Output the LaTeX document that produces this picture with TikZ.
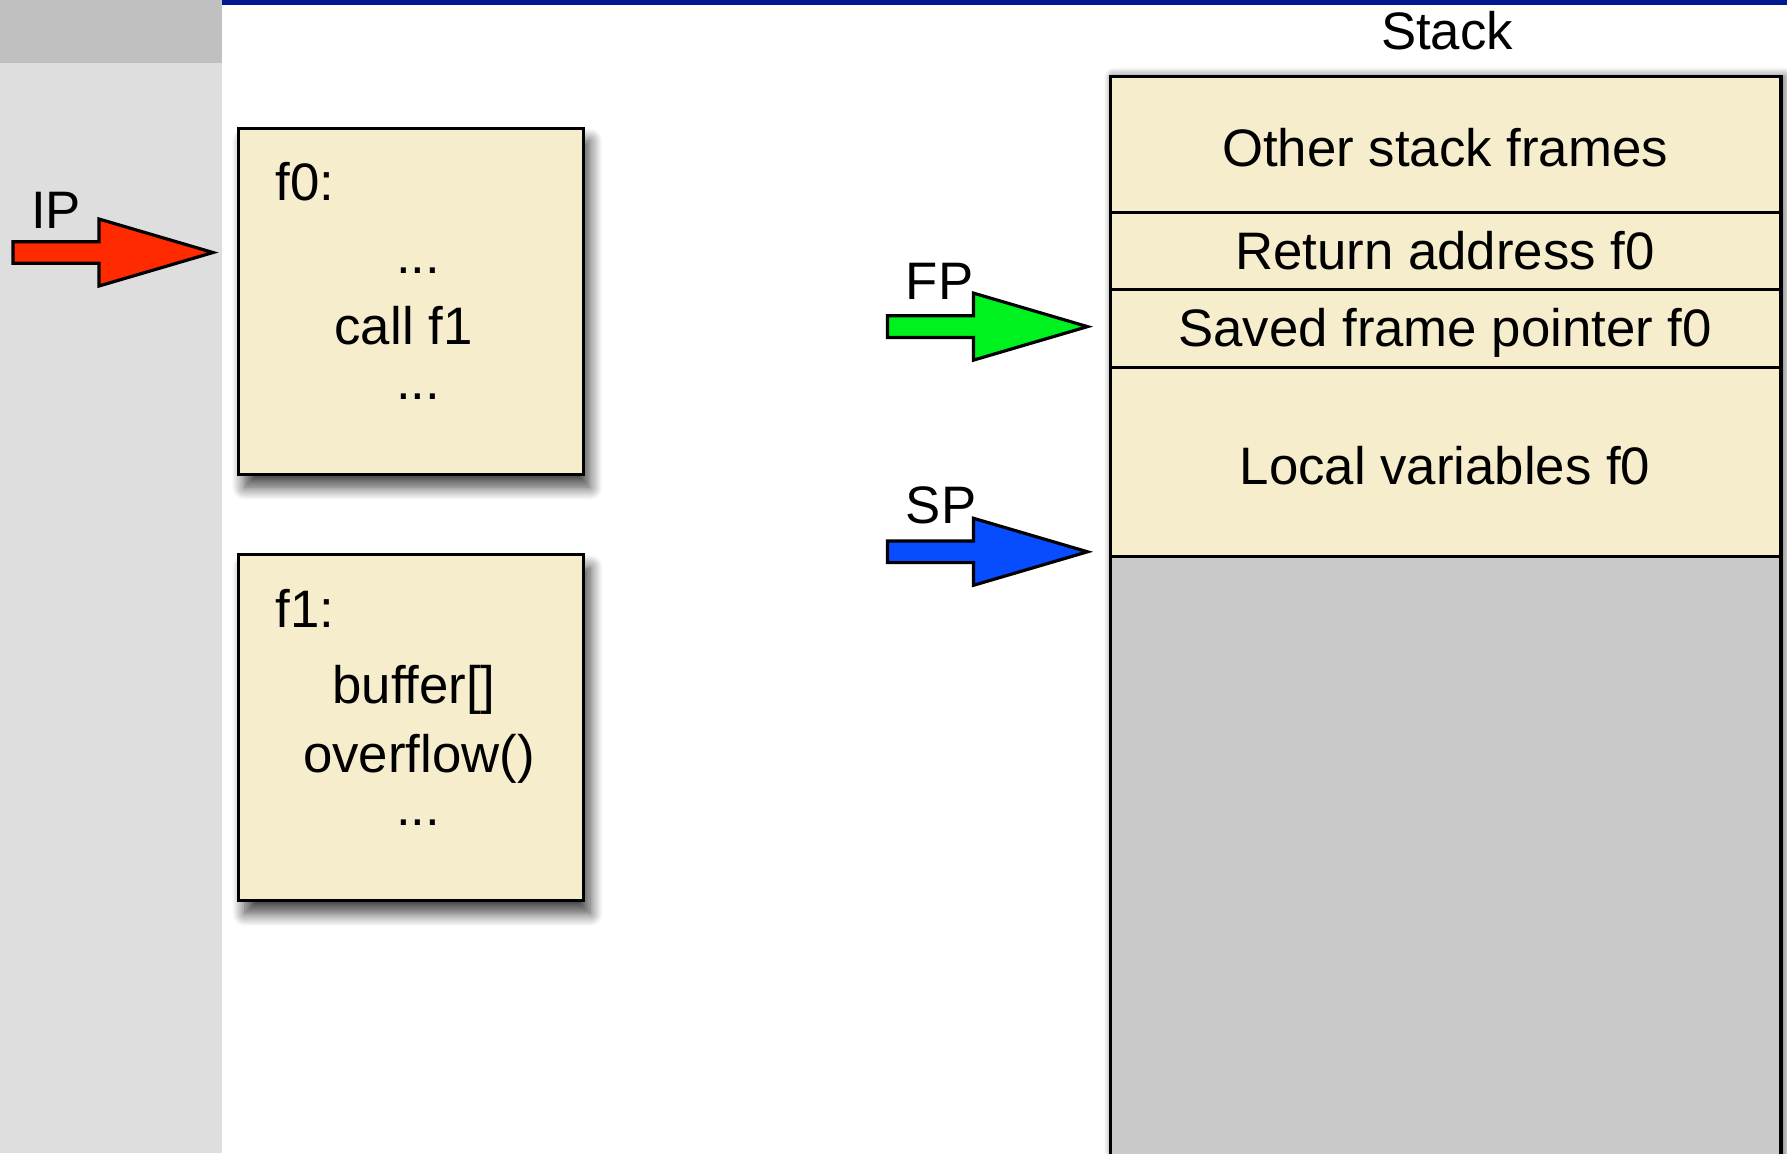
\documentclass[tikz,border=0pt]{standalone}
\usepackage{fontspec}
\setmainfont{Liberation Sans}
\usetikzlibrary{calc,shadows.blur}

\definecolor{panel}{RGB}{222,222,222}
\definecolor{panelTop}{RGB}{191,192,191}
\definecolor{topRule}{RGB}{2,24,143}
\definecolor{paper}{RGB}{245,237,203}
\definecolor{freeMem}{RGB}{200,201,200}
\definecolor{ipRed}{RGB}{255,42,0}
\definecolor{fpGreen}{RGB}{0,242,30}
\definecolor{spBlue}{RGB}{8,76,255}

% block arrow ending at a named tip coordinate
\newcommand\blockarrow[2]{%
  \draw[line width=0.9pt, fill=#2, line join=miter]
    (#1) -- ++(-114,-33.5) -- ++(0,22.7) -- ++(-86,0) -- ++(0,21.6)
         -- ++(86,0) -- ++(0,22.7) -- cycle;}

\begin{document}
\begin{tikzpicture}[x=0.01cm, y=-0.01cm,
  font=\fontsize{15}{18}\selectfont,
  boxshadow/.style={blur shadow={shadow xshift=1.8pt, shadow yshift=-3.6pt,
      shadow blur radius=3.6pt, shadow blur steps=12, shadow opacity=75}},
  stackshadow/.style={blur shadow={shadow xshift=1.4pt, shadow yshift=-0.6pt,
      shadow blur radius=2.8pt, shadow blur steps=10, shadow opacity=70}},
  codebox/.style={draw=black, line width=0.9pt, fill=paper, inner sep=0pt,
      anchor=north west, minimum width=3.45cm, minimum height=3.46cm, boxshadow},
  slot/.style={draw=black, line width=0.9pt, fill=paper, inner sep=0pt,
      anchor=north west, minimum width=6.70cm},
  txt/.style={inner sep=0pt, anchor=base},
  lbl/.style={inner sep=0pt, anchor=base west}]

\clip (0,0) rectangle (1787,1153);

% left side panel and top rule
\fill[panel] (0,0) rectangle (222,1153);
\fill[panelTop] (0,0) rectangle (222,63);
\fill[topRule] (222,0) rectangle (1787,5);

% code of the two functions
\node[codebox] (f0box) at (236.7,126.7) {};
\node[lbl] (f0name) at (275,200) {f0:};
\node[txt] (f0dotsA) at (418,273) {...};
\node[txt] (f0call) at (403.5,344) {call f1};
\node[txt] (f0dotsB) at (418,399) {...};

\node[codebox] (f1box) at (237,553) {};
\node[lbl] (f1name) at (275,627) {f1:};
\node[txt] (f1buf) at (414,703) {buffer[]};
\node[txt] (f1ovf) at (419,772) {overflow()};
\node[txt] (f1dots) at (418,825) {...};

% the stack
\node[txt] (stacktitle) at (1447,49) {Stack};
\path[stackshadow, fill=freeMem] (1109,75) rectangle (1779,1200);
\node[slot, minimum height=1.36cm] (others) at (1109,75) {};
\node[slot, minimum height=0.77cm] (retaddr) at (1109,211) {};
\node[slot, minimum height=0.78cm] (savedfp) at (1109,288) {};
\node[slot, minimum height=1.89cm] (locals) at (1109,366) {};
\node[slot, fill=freeMem, minimum height=6.50cm] (free) at (1109,555) {};

\node[txt] at (1445,166.7) {Other stack frames};
\node[txt] at (1445,269) {Return address f0};
\node[txt] at (1445,346) {Saved frame pointer f0};
\node[txt] at (1445,484) {Local variables f0};

% register pointers
\coordinate (iptip) at (213,252.5);
\coordinate (fptip) at ($(savedfp.west)+(-21.5,-2)$);
\coordinate (sptip) at ($(locals.south west)+(-21.5,-6.5)$);

\node[txt] (iplabel) at (56,228) {IP};
\node[txt] (fplabel) at (939.5,299) {FP};
\node[txt] (splabel) at (941,523) {SP};

\blockarrow{iptip}{ipRed}
\blockarrow{fptip}{fpGreen}
\blockarrow{sptip}{spBlue}
\end{tikzpicture}
\end{document}
